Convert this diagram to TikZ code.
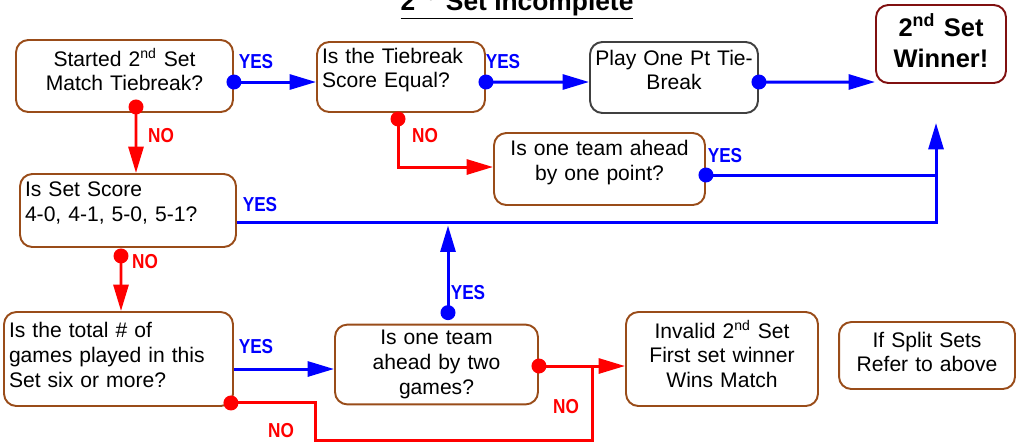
\documentclass[tikz,border=0pt]{standalone}
\usepackage{fontspec}
\setmainfont{Liberation Sans}
\newfontfamily\tagfont[FakeStretch=0.85]{Liberation Sans}
\usetikzlibrary{arrows.meta,calc}
\definecolor{boxbrown}{RGB}{153,76,25}
\definecolor{winred}{RGB}{128,16,16}
\definecolor{playgray}{RGB}{64,64,64}

\begin{document}
\begin{tikzpicture}[x=0.02cm,y=-0.02cm,
  box/.style={draw=boxbrown,line width=1.1pt,rounded corners=7pt,fill=white,inner xsep=0.1cm,font=\fontsize{12}{14}\selectfont},
  lift/.style={execute at end node={\endgraf\kern#1}},
  yes/.style={draw=blue,line width=1.7pt},
  no/.style={draw=red,line width=1.7pt},
  dot/.style={{Circle[length=8.5pt]}-,shorten <=-4.25pt},
  go/.style={{Circle[length=8.5pt]}-{Triangle[length=15pt,width=8.5pt]},shorten <=-4.25pt},
  yestag/.style={text=blue,font=\tagfont\bfseries\fontsize{11.5}{12}\selectfont,inner sep=0pt},
  notag/.style={text=red,font=\tagfont\bfseries\fontsize{11.5}{12}\selectfont,inner sep=0pt}]
\useasboundingbox (0,0) rectangle (1016,444);
\node[anchor=base,font=\bfseries\fontsize{15}{18}\selectfont] (title) at (517,10) {\underline{2\textsuperscript{nd} Set Incomplete}};

\node[box,lift=7.4pt,text width=4.14cm,align=center,minimum height=1.44cm] (start) at (124.5,76) {Started 2\textsuperscript{nd} Set\\Match Tiebreak?};
\node[box,lift=8pt,text width=3.16cm,align=left,minimum height=1.40cm] (equal) at (401,77) {Is the Tiebreak\\Score Equal?};
\node[box,lift=8.5pt,draw=playgray,text width=3.16cm,align=center,minimum height=1.42cm] (play) at (674,77.5) {Play One Pt Tie-\\Break};
\node[box,lift=3.4pt,draw=winred,text width=2.40cm,align=center,minimum height=1.56cm,font=\bfseries\fontsize{14.5}{18}\selectfont] (winner) at (941,44) {2\textsuperscript{nd} Set\\Winner!};
\node[box,lift=7.4pt,text width=4.02cm,align=center,minimum height=1.44cm] (onept) at (599.5,169) {Is one team ahead\\by one point?};
\node[box,lift=8.5pt,text width=4.12cm,align=left,minimum height=1.46cm] (score) at (128,210.5) {Is Set Score\\4-0, 4-1, 5-0, 5-1?};
\node[box,lift=4.5pt,text width=4.38cm,align=left,minimum height=1.88cm] (total) at (118.5,359) {Is the total \# of\\games played in this\\Set six or more?};
\node[box,text width=3.86cm,align=center,minimum height=1.58cm] (twogames) at (436.5,364.5) {Is one team\\ahead by two\\games?};
\node[box,lift=5.7pt,text width=3.64cm,align=center,minimum height=1.88cm] (invalid) at (722,359) {Invalid 2\textsuperscript{nd} Set\\First set winner\\Wins Match};
\node[box,lift=4pt,text width=3.32cm,align=center,minimum height=1.34cm] (split) at (927,355.5) {If Split Sets\\Refer to above};

\coordinate (wintip) at ($(winner.south)+(-5,39)$);
\coordinate (ptyes) at ($(onept.east)+(0,6)$);
\coordinate (scoreyes) at ($(score.east)+(0,11.5)$);
\coordinate (twoyes) at ($(twogames.north)+(11.5,-11)$);
\coordinate (totalyes) at ($(total.east)+(0,10)$);
\coordinate (twono) at ($(twogames.east)+(0,1.5)$);
\coordinate (totalno) at ($(total.south east)+(-3,-4)$);

\draw[yes,go] ($(start.east)+(0,6)$) -- ($(equal.west)+(0,5)$);
\draw[yes,go] ($(equal.east)+(0,5)$) -- ($(play.west)+(0,4.5)$);
\draw[yes,go] ($(play.east)+(0,4.5)$) -- ($(winner.west)+(0,38)$);
\draw[no,go] ($(start.south)+(11.5,-6)$) -- ($(score.north)+(8,0)$);
\draw[no,go] ($(equal.south)+(-3,6)$) |- ($(onept.west)+(0,-2)$);
\draw[yes,dot] (ptyes) -- (ptyes -| wintip);
\draw[yes,-{Triangle[length=15pt,width=8.5pt]}] (scoreyes) -| (wintip);
\draw[no,go] ($(score.south)+(-7,8)$) -- ($(total.north)+(2.5,0)$);
\draw[yes,go,shorten >=2pt] (twoyes) -- (twoyes |- scoreyes);
\draw[yes,-{Triangle[length=15pt,width=8.5pt]}] (totalyes) -- (totalyes -| twogames.west);
\draw[no,go] (twono) -- (twono -| invalid.west);
\draw[no,dot] (totalno) -- ++(85,0) -- ++(0,38) -| ($(twono)+(54,0)$);

\node[yestag] (yesstart) at (256,62) {YES};
\node[yestag] (yesequal) at (503,62) {YES};
\node[notag] (nostart) at (161,136) {NO};
\node[notag] (noequal) at (425,136) {NO};
\node[yestag] (yesonept) at (725,156) {YES};
\node[yestag] (yesscore) at (260,205) {YES};
\node[notag] (noscore) at (145,262) {NO};
\node[yestag] (yestwo) at (468,293) {YES};
\node[yestag] (yestotal) at (256,347) {YES};
\node[notag] (nototal) at (281,431) {NO};
\node[notag] (notwo) at (566,407) {NO};
\end{tikzpicture}
\end{document}
